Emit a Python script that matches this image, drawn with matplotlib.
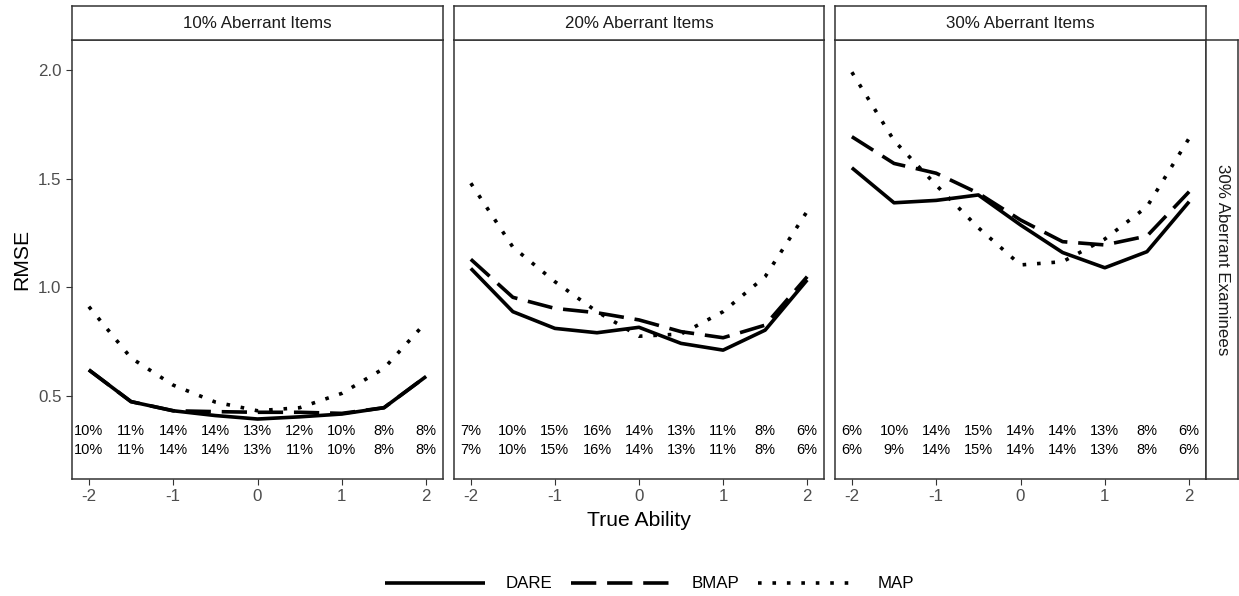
import matplotlib
matplotlib.use("Agg")
import matplotlib.pyplot as plt
from matplotlib.lines import Line2D

plt.rcParams['font.family'] = ['Liberation Sans', 'DejaVu Sans']

# true ability grid
ability = [-2, -1.5, -1, -0.5, 0, 0.5, 1, 1.5, 2]

facet_titles = ["10% Aberrant Items", "20% Aberrant Items", "30% Aberrant Items"]
row_title = "30% Aberrant Examinees"

# RMSE per method, 10% aberrant items
dare_10 = [0.62, 0.474, 0.432, 0.41, 0.394, 0.404, 0.417, 0.446, 0.59]
bmap_10 = [0.62, 0.474, 0.432, 0.428, 0.425, 0.425, 0.42, 0.446, 0.59]
map_10 = [0.911, 0.675, 0.55, 0.472, 0.432, 0.446, 0.512, 0.627, 0.84]

# 20% aberrant items
dare_20 = [1.087, 0.888, 0.811, 0.791, 0.816, 0.742, 0.711, 0.803, 1.034]
bmap_20 = [1.129, 0.954, 0.903, 0.883, 0.85, 0.796, 0.768, 0.826, 1.049]
map_20 = [1.479, 1.185, 1.026, 0.888, 0.775, 0.785, 0.888, 1.049, 1.35]

# 30% aberrant items
dare_30 = [1.55, 1.389, 1.40, 1.425, 1.287, 1.16, 1.09, 1.164, 1.394]
bmap_30 = [1.693, 1.57, 1.525, 1.433, 1.31, 1.21, 1.195, 1.236, 1.44]
map_30 = [1.99, 1.675, 1.47, 1.274, 1.103, 1.118, 1.222, 1.371, 1.686]

# percentage labels shown at the bottom of each panel
pct_top_10 = ["10%", "11%", "14%", "14%", "13%", "12%", "10%", "8%", "8%"]
pct_bot_10 = ["10%", "11%", "14%", "14%", "13%", "11%", "10%", "8%", "8%"]
pct_top_20 = ["7%", "10%", "15%", "16%", "14%", "13%", "11%", "8%", "6%"]
pct_bot_20 = ["7%", "10%", "15%", "16%", "14%", "13%", "11%", "8%", "6%"]
pct_top_30 = ["6%", "10%", "14%", "15%", "14%", "14%", "13%", "8%", "6%"]
pct_bot_30 = ["6%", "9%", "14%", "15%", "14%", "14%", "13%", "8%", "6%"]

methods = ["DARE", "BMAP", "MAP"]
series = [
    [dare_10, bmap_10, map_10],
    [dare_20, bmap_20, map_20],
    [dare_30, bmap_30, map_30],
]
pct_rows = [
    (pct_top_10, pct_bot_10),
    (pct_top_20, pct_bot_20),
    (pct_top_30, pct_bot_30),
]

LW = 2.6
styles = {
    "DARE": dict(linestyle="-"),
    "BMAP": dict(linestyle=(0, (7, 3))),
    "MAP": dict(linestyle=(0, (1, 3))),
}
border = "#333333"

W, H = 1239, 596
fig = plt.figure(figsize=(W / 100, H / 100), dpi=100)

def px_axes(x0, y0, x1, y1):
    # axes from pixel box (top-left origin)
    return fig.add_axes([x0 / W, 1 - y1 / H, (x1 - x0) / W, (y1 - y0) / H])

def boxed(ax):
    ax.set_xticks([])
    ax.set_yticks([])
    for sp in ax.spines.values():
        sp.set_color(border)
        sp.set_linewidth(1.1)

panel_x = [(72, 443), (454, 824), (835, 1206)]
top, bottom = 40, 479

for i, (x0, x1) in enumerate(panel_x):
    ax = px_axes(x0, top, x1, bottom)
    for m, vals in zip(methods, series[i]):
        ax.plot(ability, vals, color="black", lw=LW, solid_capstyle="butt",
                dash_capstyle="butt", solid_joinstyle="round", **styles[m])
    top_row, bot_row = pct_rows[i]
    for xv, t, b in zip(ability, top_row, bot_row):
        ax.text(xv, 0.34, t, ha="center", va="center", fontsize=10.5)
        ax.text(xv, 0.251, b, ha="center", va="center", fontsize=10.5)
    ax.set_xlim(-2.2, 2.2)
    ax.set_ylim(0.118, 2.138)
    ax.set_xticks([-2, -1, 0, 1, 2])
    ax.set_xticklabels(["-2", "-1", "0", "1", "2"])
    ax.set_yticks([0.5, 1.0, 1.5, 2.0])
    if i == 0:
        ax.set_yticklabels(["0.5", "1.0", "1.5", "2.0"])
        ax.tick_params(axis="y", length=4, width=0.8, color=border,
                       labelsize=12.2, labelcolor="#4D4D4D", pad=3.5)
    else:
        ax.tick_params(axis="y", length=0, labelleft=False)
    ax.tick_params(axis="x", length=4, width=0.8, color=border,
                   labelsize=12.2, labelcolor="#4D4D4D", pad=3.5)
    for sp in ax.spines.values():
        sp.set_color(border)
        sp.set_linewidth(1.1)

    # facet strip on top
    st = px_axes(x0, 6, x1, top)
    boxed(st)
    st.text(0.5, 0.5, facet_titles[i], ha="center", va="center",
            fontsize=12.2, color="#1A1A1A", transform=st.transAxes)

# row strip on the right
rs = px_axes(1206, top, 1238, bottom)
boxed(rs)
rs.text(0.5, 0.5, row_title, ha="center", va="center", rotation=270,
        fontsize=12.2, color="#1A1A1A", transform=rs.transAxes)

fig.text(639 / W, 1 - 520 / H, "True Ability", ha="center", va="center", fontsize=15.2)
fig.text(22 / W, 1 - 259.5 / H, "RMSE", ha="center", va="center", rotation=90, fontsize=15.2)

handles = [Line2D([], [], color="black", lw=LW, solid_capstyle="butt",
                  dash_capstyle="butt", **styles[m]) for m in methods]
fig.legend(handles, methods, loc="center", ncol=3, frameon=False,
           bbox_to_anchor=(650 / W, 1 - 584 / H), fontsize=12.2,
           handlelength=5.9, handletextpad=1.2, columnspacing=1.1)

fig.savefig("out.png", dpi=100)
